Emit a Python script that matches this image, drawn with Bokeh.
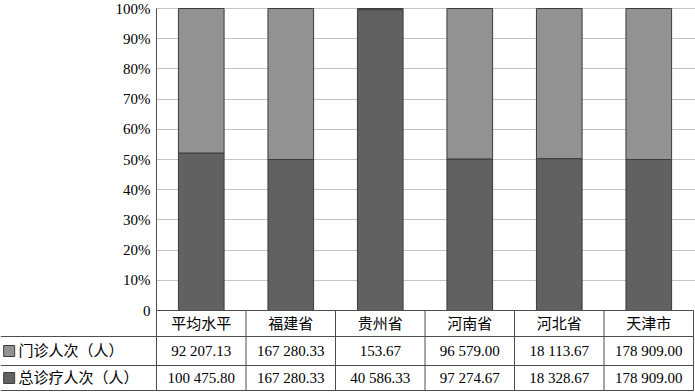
from bokeh.plotting import figure
from bokeh.models import Range1d, FixedTicker, ColumnDataSource
from bokeh.core.properties import value
from bokeh.embed import file_html
from bokeh.resources import INLINE

categories = ["平均水平", "福建省", "贵州省", "河南省", "河北省", "天津市"]
outpatient = [92207.13, 167280.33, 153.67, 96579.00, 18113.67, 178909.00]
total_visits = [100475.80, 167280.33, 40586.33, 97274.67, 18328.67, 178909.00]
series_names = ["门诊人次（人）", "总诊疗人次（人）"]
series_colors = ["#929292", "#616161"]
y_ticks = [0, 10, 20, 30, 40, 50, 60, 70, 80, 90, 100]
y_tick_labels = ["0", "10%", "20%", "30%", "40%", "50%", "60%", "70%", "80%", "90%", "100%"]

SERIF = "'Liberation Serif', 'Times New Roman', serif"
MIXED = "'Liberation Serif', 'Noto Sans CJK SC', serif"
LINE = "#4d4d4d"
FS = "15px"

n = len(categories)
xc = [i + 0.5 for i in range(n)]
sums = [a + b for a, b in zip(outpatient, total_visits)]
pct_total = [b / s * 100 for b, s in zip(total_visits, sums)]
pct_out = [a / s * 100 for a, s in zip(outpatient, sums)]

X0, X1 = -1.743, 6.022
Y0, Y1 = -27.15, 102.65
ROW_H = -8.61
ROW_1 = -18.21
ROW_2 = -26.49

p = figure(width=695, height=392, x_range=Range1d(X0, X1), y_range=Range1d(Y0, Y1),
           output_backend="svg", toolbar_location=None, min_border=0,
           outline_line_color=None, background_fill_color="white")
p.xaxis.visible = False
p.xgrid.visible = False
p.ygrid.ticker = FixedTicker(ticks=y_ticks[1:])
p.ygrid.grid_line_color = "#c4c4c4"
p.ygrid.grid_line_width = 1

ax = p.yaxis[0]
ax.fixed_location = 0
ax.ticker = FixedTicker(ticks=y_ticks)
ax.major_label_overrides = {t: l for t, l in zip(y_ticks, y_tick_labels)}
ax.major_label_text_font = SERIF
ax.major_label_text_font_size = FS
ax.major_label_text_color = "black"
ax.major_label_standoff = 6
ax.major_tick_in = 0
ax.major_tick_out = 0
ax.minor_tick_in = 0
ax.minor_tick_out = 0
ax.axis_line_color = None

# white mask over legend column so grid lines stop at the axis
p.quad(left=[X0], right=[0], bottom=[0], top=[Y1], fill_color="white", line_color=None)

src = ColumnDataSource(dict(x=xc, bottom_part=pct_total, top_part=pct_out))
p.vbar_stack(["bottom_part", "top_part"], x="x", width=0.51, source=src,
             color=[series_colors[1], series_colors[0]], line_color="#3c3c3c", line_width=1)

# table lines
hx0 = [0, X0, X0, X0]
hx1 = [6, 6, 6, 6]
hy = [0, ROW_H, ROW_1, ROW_2]
p.segment(x0=hx0, y0=hy, x1=hx1, y1=hy, line_color=LINE, line_width=1)
vx = [0] + [i for i in range(1, n + 1)]
vy0 = [100] + [0] * n
vy1 = [ROW_2] * (n + 1)
p.segment(x0=vx, y0=vy0, x1=vx, y1=vy1, line_color=LINE, line_width=1)

def fmt(v):
    return f"{v:,.2f}".replace(",", " ")

p.text(x=xc, y=[ROW_H / 2] * n, text=categories, text_font=value(MIXED),
       text_font_size=FS, text_align="center", text_baseline="middle", text_color="black")
p.text(x=xc, y=[(ROW_H + ROW_1) / 2] * n, text=[fmt(v) for v in outpatient], text_font=value(SERIF),
       text_font_size=FS, text_align="center", text_baseline="middle", text_color="black")
p.text(x=xc, y=[(ROW_1 + ROW_2) / 2] * n, text=[fmt(v) for v in total_visits], text_font=value(SERIF),
       text_font_size=FS, text_align="center", text_baseline="middle", text_color="black")

row_y = [(ROW_H + ROW_1) / 2, (ROW_1 + ROW_2) / 2]
p.scatter(x=[X0 + 0.097] * 2, y=row_y, marker="square", size=11,
          fill_color=series_colors, line_color="#3c3c3c", line_width=1)
p.text(x=[X0 + 0.2] * 2, y=row_y, text=series_names, text_font=value(MIXED),
       text_font_size=FS, text_align="left", text_baseline="middle", text_color="black")

open("out.html", "w").write(file_html(p, INLINE))
